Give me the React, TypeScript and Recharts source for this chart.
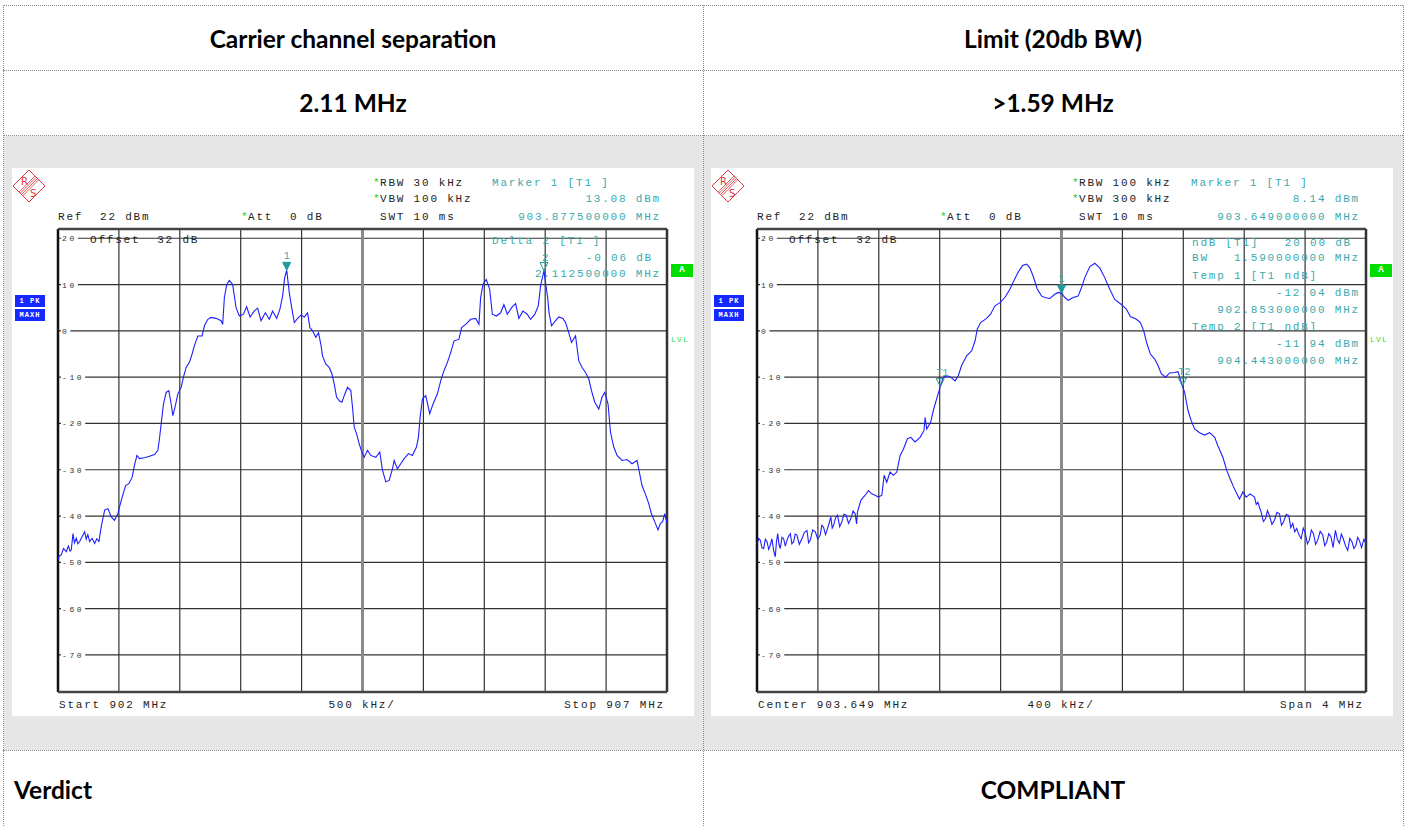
import React from "react";
import {
  LineChart,
  Line,
  XAxis,
  YAxis,
  ReferenceLine,
  ReferenceDot,
} from "recharts";

// left screen: 902 - 907 MHz, two carriers
const leftFreq = [
  902.0, 902.01, 902.027, 902.045, 902.068, 902.085, 902.1, 902.109, 902.123, 902.135,
  902.15, 902.163, 902.178, 902.195, 902.219, 902.232, 902.245, 902.26, 902.28, 902.301,
  902.318, 902.336,
  902.355, 902.383, 902.41, 902.437, 902.464, 902.492, 902.505, 902.527, 902.555,
  902.582, 902.609, 902.628, 902.648, 902.669, 902.71, 902.751, 902.792, 902.82, 902.833,
  902.847, 902.866, 902.888, 902.91, 902.929, 902.943, 902.964, 902.984, 903.011, 903.03,
  903.052, 903.079, 903.101, 903.12, 903.148, 903.183, 903.202, 903.23, 903.257, 903.298,
  903.339, 903.352, 903.366, 903.385, 903.407, 903.434, 903.462, 903.489, 903.522, 903.549,
  903.577, 903.612, 903.639, 903.667, 903.702, 903.735, 903.762, 903.795, 903.822, 903.844,
  903.861, 903.878, 903.899, 903.921, 903.94, 903.967, 903.995, 904.022, 904.049, 904.068,
  904.09, 904.117, 904.139, 904.158, 904.172, 904.199, 904.227, 904.249, 904.268, 904.287,
  904.309, 904.331, 904.35, 904.377, 904.404, 904.418, 904.432, 904.451, 904.473, 904.495,
  904.514, 904.541, 904.568, 904.609, 904.642, 904.664, 904.691, 904.719, 904.746, 904.76,
  904.787, 904.814, 904.842, 904.877, 904.91, 904.943, 904.959, 904.973, 904.992, 905.019,
  905.052, 905.079, 905.115, 905.142, 905.169, 905.197, 905.224, 905.251, 905.292, 905.314,
  905.347, 905.388, 905.429, 905.456, 905.47, 905.489, 905.516, 905.544, 905.566, 905.598,
  905.634, 905.661, 905.689, 905.724, 905.757, 905.784, 905.817, 905.852, 905.88, 905.915,
  905.943, 905.962, 905.99, 906.005, 906.02, 906.032, 906.052, 906.085, 906.112, 906.145,
  906.167, 906.189, 906.216, 906.249, 906.276, 906.303, 906.331, 906.358, 906.38, 906.407,
  906.44, 906.467, 906.489, 906.516, 906.536, 906.563, 906.59, 906.631, 906.672, 906.713,
  906.754, 906.773, 906.795, 906.822, 906.85, 906.872, 906.899, 906.926, 906.945, 906.964,
  906.981, 907.0,
];
const leftLevel = [
  -49.5, -48.6, -48.4, -47.0, -47.7, -46.5, -47.6, -47.3, -43.8, -45.8,
  -44.8, -46.0, -45.5, -44.6, -43.4, -45.0, -44.0, -45.5, -44.8, -45.9,
  -44.9, -45.5,
  -42.3, -38.7, -38.4, -40.2, -40.9, -39.5, -38.0, -35.9, -33.4,
  -33.0, -31.6, -29.0, -26.9, -27.6, -27.4, -27.1, -26.7, -25.8, -23.3,
  -20.1, -15.8, -13.3, -12.9, -15.8, -18.3, -16.1, -13.6, -12.2, -10.0,
  -7.9, -6.8, -5.0, -3.2, -1.1, -1.1, 1.1, 2.5, 2.9, 2.7,
  2.2, 1.4, 7.2, 10.0, 10.9, 10.0, 5.0, 3.2, 3.6, 5.2,
  3.0, 4.3, 4.9, 2.2, 3.9, 2.5, 4.3, 2.7, 4.7, 7.5,
  11.5, 13.1, 8.2, 4.7, 1.8, 2.7, 3.4, 3.0, 3.9, 0.7,
  0.0, -1.4, -0.4, -2.9, -5.4, -7.2, -7.9, -9.3, -11.5, -14.3,
  -15.1, -15.4, -14.0, -12.2, -12.9, -16.5, -20.8, -22.2, -24.4, -26.2,
  -27.3, -25.8, -26.9, -27.3, -26.2, -30.1, -32.6, -32.3, -29.8, -28.0,
  -29.8, -28.7, -27.6, -26.5, -26.9, -25.1, -23.0, -18.7, -14.7, -14.0,
  -17.9, -15.8, -13.6, -10.8, -8.6, -6.8, -4.7, -2.2, -1.8, 0.7,
  1.4, 2.5, 2.7, 1.4, 7.2, 10.0, 11.1, 9.0, 3.6, 3.2,
  3.9, 5.7, 3.6, 5.0, 5.9, 2.7, 4.3, 3.6, 2.5, 3.6,
  5.4, 9.7, 13.0, 10.0, 7.2, 3.9, 1.1, 2.2, 3.0, 2.7,
  1.8, 0.0, -2.5, -1.1, -6.5, -7.9, -9.0, -10.4, -12.9, -15.4,
  -16.9, -14.3, -13.3, -15.8, -21.9, -25.1, -26.9, -28.0, -27.8, -28.7,
  -28.0, -30.5, -33.4, -35.2, -37.3, -39.5, -41.2, -43.0, -41.6, -41.2,
  -39.5, -41.5,
];

// right screen: center 903.649 MHz, span 4 MHz
const rightFreq = [
  901.649, 901.66, 901.671, 901.682, 901.693, 901.704, 901.715, 901.726, 901.736, 901.747,
  901.758, 901.769, 901.777, 901.785, 901.794, 901.802, 901.813, 901.824, 901.835, 901.846,
  901.857, 901.868, 901.878, 901.889, 901.9, 901.911, 901.927, 901.944, 901.96, 901.977,
  901.988, 901.999, 902.015, 902.032, 902.048, 902.064, 902.075, 902.086, 902.099, 902.112,
  902.123, 902.134, 902.143, 902.152, 902.165, 902.178, 902.192, 902.206, 902.22, 902.235,
  902.25, 902.265, 902.28, 902.294, 902.303, 902.309, 902.331,
  902.359, 902.381, 902.403, 902.425, 902.447, 902.469, 902.484, 902.501, 902.523, 902.545,
  902.567, 902.589, 902.611, 902.637, 902.659, 902.687, 902.72, 902.746, 902.753, 902.764,
  902.79, 902.807, 902.829, 902.853, 902.873, 902.899, 902.921, 902.95, 902.971, 902.993,
  903.026, 903.059, 903.081, 903.096, 903.118, 903.157, 903.183, 903.212, 903.245, 903.277,
  903.31, 903.336, 903.365, 903.393, 903.42, 903.441, 903.463, 903.489, 903.518, 903.54,
  903.572, 903.605, 903.627, 903.649, 903.671, 903.693, 903.726, 903.758, 903.78, 903.802,
  903.835, 903.868, 903.9, 903.933, 903.966, 903.999, 904.042, 904.075, 904.101, 904.141,
  904.167, 904.189, 904.211, 904.233, 904.261, 904.283, 904.305, 904.333, 904.359, 904.392,
  904.414, 904.443, 904.458, 904.48, 904.501, 904.523, 904.556, 904.589, 904.622, 904.655,
  904.676, 904.709, 904.735, 904.757, 904.779, 904.801, 904.818, 904.84, 904.862, 904.888,
  904.917, 904.928, 904.939, 904.95, 904.96, 904.975, 904.989, 905.002, 905.015, 905.031,
  905.048, 905.064, 905.081, 905.094, 905.107, 905.125, 905.142, 905.155, 905.168, 905.181,
  905.194, 905.208, 905.223, 905.237, 905.251, 905.264, 905.277, 905.29, 905.304, 905.318,
  905.332, 905.348, 905.365, 905.378, 905.391, 905.405, 905.419, 905.433, 905.448, 905.461,
  905.474, 905.487, 905.5, 905.515, 905.529, 905.543, 905.557, 905.57, 905.583, 905.594,
  905.605, 905.62, 905.635, 905.649,
];
const rightLevel = [
  -46.3, -44.8, -45.2, -46.9, -47.0, -45.0, -45.6, -47.2, -46.3, -44.9,
  -47.4, -48.8, -45.5, -43.8, -46.2, -47.0, -44.6, -44.9, -46.5, -45.2,
  -44.3, -43.8, -46.0, -45.6, -43.9, -44.1, -46.1, -44.9, -43.5, -43.1,
  -45.8, -45.2, -43.0, -43.4, -45.0, -44.1, -42.0, -42.4, -44.0, -42.7,
  -41.5, -40.2, -42.6, -42.0, -40.4, -39.8, -42.3, -41.3, -39.6, -39.8,
  -41.6, -40.6, -38.9, -39.5, -41.7, -39.1, -36.6,
  -35.5, -34.5, -35.2, -35.5, -35.9, -35.5, -31.2, -32.7, -30.5, -31.2,
  -30.5, -26.9, -25.5, -23.3, -23.0, -24.0, -23.0, -21.5, -18.7, -21.2,
  -19.7, -17.2, -14.7, -12.0, -10.0, -9.7, -10.0, -10.8, -9.7, -7.5,
  -5.4, -4.3, -2.2, 0.4, 1.8, 2.7, 3.6, 5.4, 6.1, 7.2,
  9.0, 10.8, 12.7, 14.1, 14.4, 13.6, 11.8, 9.1, 7.5, 7.2,
  7.0, 7.9, 8.3, 8.1, 7.2, 6.6, 7.2, 7.5, 9.3, 11.5,
  13.9, 14.6, 13.6, 11.5, 9.0, 6.8, 5.7, 4.7, 3.1, 2.5,
  1.8, 0.0, -2.9, -5.0, -6.1, -7.5, -9.3, -10.0, -9.1, -9.0,
  -8.8, -11.9, -13.3, -17.2, -19.4, -21.2, -22.0, -22.5, -22.0, -23.0,
  -24.8, -27.3, -30.2, -32.0, -33.7, -35.2, -36.3, -34.8, -35.9, -35.2,
  -35.9, -37.5, -37.0, -38.2, -39.1, -41.2, -40.6, -38.8, -39.9, -41.8,
  -40.9, -39.2, -39.5, -42.0, -41.3, -39.6, -39.9, -42.5, -41.6, -43.4,
  -42.7, -44.0, -44.9, -42.6, -43.8, -46.0, -45.2, -43.0, -43.8, -46.1,
  -45.2, -43.3, -44.1, -46.4, -45.6, -43.8, -44.5, -46.8, -43.1, -45.0,
  -45.9, -43.9, -44.9, -46.5, -47.4, -44.8, -45.6, -47.0, -46.3, -44.6,
  -45.2, -46.8, -45.0, -45.9,
];

const levelTicks = [20, 10, 0, -10, -20, -30, -40, -50, -60, -70];
const levelDomain = [-78, 22];
const leftFreqTicks = [902, 902.5, 903, 903.5, 904, 904.5, 905, 905.5, 906, 906.5, 907];
const rightFreqTicks = [
  901.649, 902.049, 902.449, 902.849, 903.249, 903.649, 904.049, 904.449, 904.849, 905.249, 905.649,
];

// markers: [freq, level, label, filled]
const leftMarkers: [number, number, string, boolean][] = [
  [903.8775, 13.08, "1", true],
  [905.99, 13.02, "", false],
];
const rightMarkers: [number, number, string, boolean][] = [
  [903.649, 8.14, "1", true],
  [902.853, -12.04, "T1", false],
  [904.443, -11.94, "T2", false],
];

const MONO = "'Liberation Mono', 'DejaVu Sans Mono', monospace";
const TEAL = "#3aa9ad";
const GREEN = "#22cc22";
const TRACE = "#1f1fff";
const GRID = "#333";
const PANEL_W = 682;
const PANEL_H = 548;
const PLOT_LEFT = 46;

// level label sits on its grid line with a white box behind it
const LevelLabel = (props: any) => {
  const { viewBox, text } = props;
  const y = viewBox ? viewBox.y : 0;
  return (
    <g>
      <rect x={PLOT_LEFT + 3} y={y - 5} width={text.length * 7.4 + 2} height={10} fill="#fff" />
      <text x={PLOT_LEFT + 4} y={y + 3} fontSize={8} letterSpacing={2.6} fontFamily={MONO} fill="#333">
        {text}
      </text>
    </g>
  );
};

const markerShape = (label: string, filled: boolean) => (p: any) => {
  const { cx, cy } = p;
  return (
    <g>
      <polygon
        points={`${cx - 4},${cy - 8} ${cx + 4},${cy - 8} ${cx},${cy}`}
        fill={filled ? "#1d9a9a" : "none"}
        stroke="#1d9a9a"
        strokeWidth={1}
      />
      {label ? (
        <text
          x={label.length > 1 ? cx - 4 : cx}
          y={cy - 11}
          textAnchor={label.length > 1 ? "start" : "middle"}
          fontSize={10}
          fontFamily={MONO}
          fill={TEAL}
        >
          {label}
        </text>
      ) : null}
    </g>
  );
};

type Txt = { t: string; y: number; x?: number; r?: number; cx?: number; c?: string; s?: number };

function Texts({ items }: { items: Txt[] }) {
  return (
    <>
      {items.map((it, i) => (
        <div
          key={i}
          style={{
            position: "absolute",
            top: it.y - 6,
            left: it.cx !== undefined ? it.cx : it.x,
            right: it.r,
            transform: it.cx !== undefined ? "translateX(-50%)" : undefined,
            fontFamily: MONO,
            fontSize: it.s || 11,
            letterSpacing: it.s ? 1.2 : 1.8,
            lineHeight: "12px",
            whiteSpace: "pre",
            color: it.c || "#222",
          }}
        >
          {it.t}
        </div>
      ))}
    </>
  );
}

function Logo() {
  const red = "#e0393e";
  const stripes = [30, 32.5, 35, 37.5];
  return (
    <svg width={36} height={36} style={{ position: "absolute", left: 0, top: 1 }}>
      <polygon points="17,1 33,17 17,33 1,17" fill="none" stroke={red} strokeWidth={1} />
      {stripes.map((c) => (
        <line
          key={c}
          x1={(c + 16) / 2}
          y1={(c - 16) / 2}
          x2={(c - 16) / 2}
          y2={(c + 16) / 2}
          stroke={red}
          strokeWidth={0.8}
        />
      ))}
      <text x={9} y={16} fontSize={10} fontFamily="'DejaVu Sans', sans-serif" fill={red}>
        R
      </text>
      <text x={18} y={28} fontSize={10} fontFamily="'DejaVu Sans', sans-serif" fill={red}>
        S
      </text>
    </svg>
  );
}

function Screen({
  left,
  freq,
  level,
  freqTicks,
  center,
  markers,
  texts,
}: {
  left: number;
  freq: number[];
  level: number[];
  freqTicks: number[];
  center: number;
  markers: [number, number, string, boolean][];
  texts: Txt[];
}) {
  const data = freq.map((f, i) => ({ freq: f, level: level[i] }));
  const start = freqTicks[0];
  const stop = freqTicks[freqTicks.length - 1];
  const common: Txt[] = [
    { t: "*", x: 361, y: 15, c: GREEN },
    { t: "*", x: 361, y: 31, c: GREEN },
    { t: "SWT 10 ms", x: 368, y: 49 },
    { t: "Marker 1 [T1 ]", x: 480, y: 15, c: TEAL },
    { t: "Ref  22 dBm", x: 46, y: 49 },
    { t: "*", x: 229, y: 49, c: GREEN },
    { t: "Att  0 dB", x: 236, y: 49 },
    { t: "Offset  32 dB", x: 78, y: 72 },
    { t: "LVL", x: 659, y: 172, c: "#33dd33", s: 8 },
  ];
  return (
    <div
      style={{
        position: "absolute",
        left,
        top: 168,
        width: PANEL_W,
        height: PANEL_H,
        background: "#fff",
      }}
    >
      <LineChart
        width={PANEL_W}
        height={PANEL_H}
        data={data}
        margin={{ top: 61, right: 27, bottom: 24, left: PLOT_LEFT }}
      >
        <XAxis
          type="number"
          dataKey="freq"
          domain={[start, stop]}
          ticks={freqTicks}
          interval={0}
          allowDataOverflow
          height={0}
          tick={false}
          axisLine={false}
          tickLine={false}
        />
        <YAxis
          type="number"
          domain={levelDomain}
          ticks={levelTicks}
          interval={0}
          allowDataOverflow
          width={0}
          axisLine={false}
          tickLine={false}
          tick={false}
        />
        {/* graticule: 10 x 10 divisions */}
        {freqTicks.map((f) => (
          <ReferenceLine key={`v-${f}`} x={f} stroke={GRID} strokeWidth={1.2} />
        ))}
        {levelTicks.map((v) => (
          <ReferenceLine key={`h-${v}`} y={v} stroke={GRID} strokeWidth={1.2} />
        ))}
        <ReferenceLine x={center} stroke="#8a8a8a" strokeWidth={3} />
        <ReferenceLine x={start} stroke="#111" strokeWidth={2.5} />
        <ReferenceLine x={stop} stroke="#333" strokeWidth={2.5} />
        <ReferenceLine y={levelDomain[1]} stroke="#444" strokeWidth={2.5} />
        <ReferenceLine y={levelDomain[0]} stroke="#444" strokeWidth={2.5} />
        {levelTicks.map((v) => (
          <ReferenceLine
            key={`lbl-${v}`}
            y={v}
            stroke="none"
            label={<LevelLabel text={String(v)} />}
          />
        ))}
        <Line
          type="linear"
          dataKey="level"
          stroke={TRACE}
          strokeWidth={1.1}
          dot={false}
          activeDot={false}
          isAnimationActive={false}
        />
        {markers.map(([f, l, lab, filled], i) => (
          <ReferenceDot key={i} x={f} y={l} r={4} shape={markerShape(lab, filled)} />
        ))}
      </LineChart>
      <Logo />
      <Texts items={[...common, ...texts]} />
      <div
        style={{
          position: "absolute",
          left: 659,
          top: 96,
          width: 22,
          height: 13,
          background: "#00dd00",
          color: "#fff",
          fontFamily: MONO,
          fontWeight: "bold",
          fontSize: 9,
          lineHeight: "13px",
          textAlign: "center",
        }}
      >
        A
      </div>
      {["1 PK", "MAXH"].map((t, i) => (
        <div
          key={t}
          style={{
            position: "absolute",
            left: 3,
            top: 127 + i * 14,
            width: 30,
            height: 12,
            background: "#1428ff",
            color: "#fff",
            fontFamily: MONO,
            fontWeight: "bold",
            fontSize: 7,
            letterSpacing: 1,
            lineHeight: "12px",
            textAlign: "center",
            whiteSpace: "pre",
          }}
        >
          {t}
        </div>
      ))}
    </div>
  );
}

const leftTexts: Txt[] = [
  { t: "RBW 30 kHz", x: 368, y: 15 },
  { t: "VBW 100 kHz", x: 368, y: 31 },
  { t: "13.08 dBm", r: 33, y: 31, c: TEAL },
  { t: "903.877500000 MHz", r: 33, y: 49, c: TEAL },
  { t: "Delta 2 [T1 ]", x: 480, y: 73, c: TEAL },
  { t: "2", x: 530, y: 90, c: TEAL },
  { t: "-0.06 dB", r: 41, y: 90, c: TEAL },
  { t: "2.112500000 MHz", r: 33, y: 106, c: TEAL },
  { t: "Start 902 MHz", x: 47, y: 537 },
  { t: "500 kHz/", cx: 350, y: 537 },
  { t: "Stop 907 MHz", r: 29, y: 537 },
];

const rightTexts: Txt[] = [
  { t: "RBW 100 kHz", x: 368, y: 15 },
  { t: "VBW 300 kHz", x: 368, y: 31 },
  { t: "8.14 dBm", r: 33, y: 31, c: TEAL },
  { t: "903.649000000 MHz", r: 33, y: 49, c: TEAL },
  { t: "ndB [T1]", x: 481, y: 75, c: TEAL },
  { t: "20.00 dB", r: 41, y: 75, c: TEAL },
  { t: "BW", x: 481, y: 90, c: TEAL },
  { t: "1.590000000 MHz", r: 33, y: 90, c: TEAL },
  { t: "Temp 1 [T1 ndB]", x: 481, y: 108, c: TEAL },
  { t: "-12.04 dBm", r: 33, y: 125, c: TEAL },
  { t: "902.853000000 MHz", r: 33, y: 142, c: TEAL },
  { t: "Temp 2 [T1 ndB]", x: 481, y: 159, c: TEAL },
  { t: "-11.94 dBm", r: 33, y: 176, c: TEAL },
  { t: "904.443000000 MHz", r: 33, y: 193, c: TEAL },
  { t: "Center 903.649 MHz", x: 47, y: 537 },
  { t: "400 kHz/", cx: 350, y: 537 },
  { t: "Span 4 MHz", r: 29, y: 537 },
];

const border = "1px dotted #8a8a8a";

function Cell({ cx, cy, x, text }: { cx?: number; cy: number; x?: number; text: string }) {
  return (
    <div
      style={{
        position: "absolute",
        top: cy - 16,
        left: cx !== undefined ? cx : x,
        transform: cx !== undefined ? "translateX(-50%)" : undefined,
        fontFamily: "Lato, 'Open Sans', sans-serif",
        fontWeight: "bold",
        fontSize: 24.5,
        lineHeight: "32px",
        whiteSpace: "nowrap",
        color: "#000",
      }}
    >
      {text}
    </div>
  );
}

export default function App() {
  const hLines = [5, 70, 135, 750];
  const vLines = [3, 703, 1403];
  return (
    <div
      style={{
        position: "absolute",
        left: 0,
        top: 0,
        width: 1406,
        height: 826,
        background: "#fff",
        overflow: "hidden",
      }}
    >
      <div style={{ position: "absolute", left: 4, top: 136, width: 1399, height: 614, background: "#e6e6e6" }} />
      {hLines.map((y) => (
        <div key={y} style={{ position: "absolute", left: 3, top: y, width: 1400, height: 0, borderTop: border }} />
      ))}
      {vLines.map((x) => (
        <div key={x} style={{ position: "absolute", left: x, top: 5, width: 0, height: 821, borderLeft: border }} />
      ))}
      <Cell cx={353} cy={39} text="Carrier channel separation" />
      <Cell cx={1053} cy={39} text="Limit (20db BW)" />
      <Cell cx={353} cy={103} text="2.11 MHz" />
      <Cell cx={1053} cy={103} text=">1.59 MHz" />
      <Cell x={14} cy={790} text="Verdict" />
      <Cell cx={1053} cy={790} text="COMPLIANT" />
      <Screen
        left={12}
        freq={leftFreq}
        level={leftLevel}
        freqTicks={leftFreqTicks}
        center={904.5}
        markers={leftMarkers}
        texts={leftTexts}
      />
      <Screen
        left={711}
        freq={rightFreq}
        level={rightLevel}
        freqTicks={rightFreqTicks}
        center={903.649}
        markers={rightMarkers}
        texts={rightTexts}
      />
    </div>
  );
}
